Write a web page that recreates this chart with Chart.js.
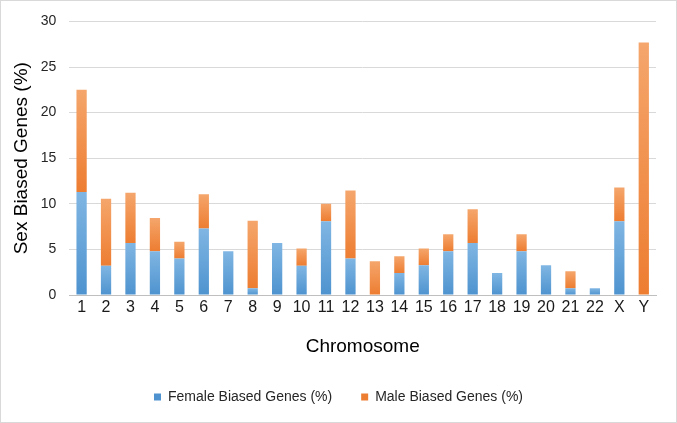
<!DOCTYPE html>
<html lang="en">
<head>
  <meta charset="UTF-8">
  <title>Sex Biased Genes by Chromosome</title>
  <script src="https://cdn.jsdelivr.net/npm/chart.js"></script>
  <style>
    body { margin: 0; background: #fff; }
    .chart-box { width: 677px; height: 423px; position: relative; }
  </style>
</head>
<body>
  <div class="chart-box">
    <canvas id="sexBiasChart"></canvas>
  </div>

  <script>
    // values
    var chromosomes = ['1', '2', '3', '4', '5', '6', '7', '8', '9', '10', '11', '12',
                       '13', '14', '15', '16', '17', '18', '19', '20', '21', '22', 'X', 'Y'];
    var femaleBiased = [11.3, 3.2, 5.7, 4.8, 4.0, 7.3, 4.8, 0.75, 5.7, 3.2, 8.1, 4.0,
                        0, 2.4, 3.25, 4.8, 5.7, 2.4, 4.8, 3.25, 0.75, 0.75, 8.1, 0];
    var maleBiased = [11.2, 7.35, 5.5, 3.65, 1.85, 3.75, 0, 7.4, 0, 1.9, 1.9, 7.45,
                      3.7, 1.85, 1.85, 1.85, 3.7, 0, 1.85, 0, 1.85, 0, 3.7, 27.7];
    var yTicks = [0, 5, 10, 15, 20, 25, 30];

    // vertical gradient per bar segment, lighter at the top
    function segmentFill(ctx, light, dark) {
      if (ctx.type !== 'data') return dark;
      var y = ctx.chart.scales.y;
      if (!y) return dark;
      var i = ctx.dataIndex;
      var base = ctx.datasetIndex === 0 ? 0 : femaleBiased[i];
      var top = base + (ctx.datasetIndex === 0 ? femaleBiased[i] : maleBiased[i]);
      var y0 = y.getPixelForValue(base);
      var y1 = y.getPixelForValue(top);
      if (!isFinite(y0) || !isFinite(y1) || y0 === y1) return dark;
      var g = ctx.chart.ctx.createLinearGradient(0, y1, 0, y0);
      g.addColorStop(0, light);
      g.addColorStop(1, dark);
      return g;
    }

    var frame = {
      id: 'frame',
      afterDraw: function(chart) {
        var c = chart.ctx;
        c.save();
        c.strokeStyle = '#d9d9d9';
        c.lineWidth = 1;
        c.strokeRect(0.5, 0.5, chart.width - 1, chart.height - 1);
        c.restore();
      }
    };

    var ctx = document.getElementById('sexBiasChart').getContext('2d');
    var sexBiasChart = new Chart(ctx, {
      type: 'bar',
      data: {
        labels: chromosomes,
        datasets: [{
          label: 'Female Biased Genes (%)',
          data: femaleBiased,
          backgroundColor: function(c) { return segmentFill(c, '#80b6e3', '#4e93cf'); },
          barPercentage: 0.42,
          categoryPercentage: 1
        }, {
          label: 'Male Biased Genes (%)',
          data: maleBiased,
          backgroundColor: function(c) { return segmentFill(c, '#f5a66c', '#ed7d31'); },
          barPercentage: 0.42,
          categoryPercentage: 1
        }]
      },
      plugins: [frame],
      options: {
        responsive: true,
        maintainAspectRatio: false,
        animation: false,
        layout: { padding: { left: 0, right: 0, top: 14, bottom: 9 } },
        plugins: {
          tooltip: { enabled: false },
          legend: {
            position: 'bottom',
            labels: {
              boxWidth: 7,
              boxHeight: 7,
              padding: 29,
              color: '#262626',
              font: { family: 'Liberation Sans', size: 14 }
            }
          }
        },
        scales: {
          x: {
            stacked: true,
            grid: { display: false, drawTicks: false },
            border: { color: '#bfbfbf' },
            ticks: {
              padding: 3,
              maxRotation: 0,
              autoSkip: false,
              color: '#1a1a1a',
              font: { family: 'Liberation Sans', size: 16 }
            },
            title: {
              display: true,
              text: 'Chromosome',
              color: '#000',
              font: { family: 'Liberation Sans', size: 19 },
              padding: { top: 15, bottom: 3 }
            }
          },
          y: {
            stacked: true,
            min: 0,
            max: 30,
            afterBuildTicks: function(axis) {
              axis.ticks = yTicks.map(function(v) { return { value: v }; });
            },
            grid: { color: '#d9d9d9', drawTicks: false },
            border: { display: false },
            ticks: {
              padding: 13,
              color: '#262626',
              font: { family: 'Liberation Sans', size: 14 }
            },
            title: {
              display: true,
              text: 'Sex Biased Genes (%)',
              color: '#000',
              font: { family: 'Liberation Sans', size: 19 },
              padding: { top: 10, bottom: -5 }
            }
          },
          // empty right-hand axis, only keeps a margin on the right of the plot
          yRight: {
            position: 'right',
            grid: { display: false, drawTicks: false },
            border: { display: false },
            ticks: { display: false },
            afterFit: function(scale) { scale.width = 21; }
          }
        }
      }
    });
  </script>
</body>
</html>
